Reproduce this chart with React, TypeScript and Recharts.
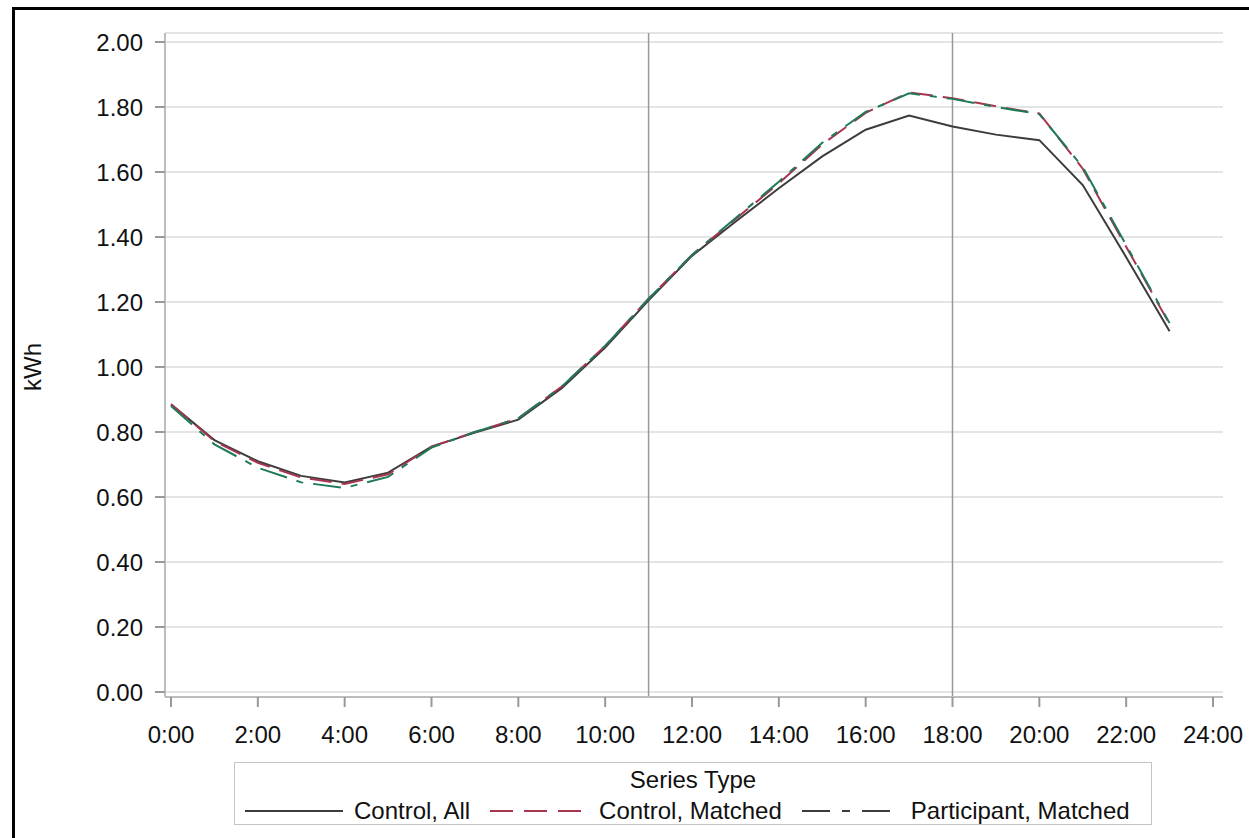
import React from 'react';
import { LineChart, Line, XAxis, YAxis, CartesianGrid, ReferenceLine } from 'recharts';

// hourly average load profile (hour of day -> kWh)
const hours = [0, 1, 2, 3, 4, 5, 6, 7, 8, 9, 10, 11, 12, 13, 14, 15, 16, 17, 18, 19, 20, 21, 22, 23];
const controlAll = [0.885, 0.775, 0.71, 0.665, 0.645, 0.675, 0.755, 0.798, 0.838, 0.935, 1.06, 1.205, 1.342, 1.447, 1.55, 1.648, 1.73, 1.774, 1.74, 1.715, 1.698, 1.56, 1.338, 1.11];
const controlMatched = [0.885, 0.772, 0.705, 0.66, 0.64, 0.67, 0.755, 0.8, 0.842, 0.94, 1.065, 1.21, 1.345, 1.455, 1.565, 1.685, 1.782, 1.845, 1.827, 1.802, 1.78, 1.61, 1.37, 1.132];
const participantMatched = [0.88, 0.762, 0.69, 0.645, 0.628, 0.662, 0.752, 0.8, 0.842, 0.94, 1.065, 1.21, 1.345, 1.458, 1.57, 1.69, 1.785, 1.842, 1.825, 1.8, 1.778, 1.615, 1.375, 1.135];

const xTicks = [0, 2, 4, 6, 8, 10, 12, 14, 16, 18, 20, 22, 24];
const yTicks = [0, 0.2, 0.4, 0.6, 0.8, 1.0, 1.2, 1.4, 1.6, 1.8, 2.0];
const refHours = [11, 18];

const SOLID = '#3c3c3c';
const RED = '#a8344e';
const GREEN = '#1f7a57';
const FRAME = '#bdbdbd';
const FONT = '"Liberation Sans", Arial, sans-serif';

const data = hours.map((h, i) => ({
  h,
  all: controlAll[i],
  cm: controlMatched[i],
  pm: participantMatched[i],
}));

const tickStyle = { fontSize: 24, fill: '#111', fontFamily: FONT };

const LegendItem: React.FC<{ color: string; dash?: string; label: string }> = ({ color, dash, label }) => (
  <div style={{ display: 'flex', alignItems: 'center', gap: '11px' }}>
    <svg width={98} height={6}>
      <line x1={0} y1={3} x2={98} y2={3} stroke={color} strokeWidth={2} strokeDasharray={dash} />
    </svg>
    <span>{label}</span>
  </div>
);

export default function App() {
  return (
    <div style={{ position: 'fixed', left: 0, top: 0, width: 1249, height: 838, background: '#fff', overflow: 'hidden', fontFamily: FONT }}>
      <div style={{ position: 'absolute', left: 12, top: 7, width: 1400, height: 1000, borderLeft: '3px solid #000', borderTop: '3px solid #000' }} />
      <div style={{ position: 'absolute', left: 0, top: 0 }}>
        <LineChart width={1249} height={838} data={data} margin={{ top: 33, right: 26, left: 0, bottom: 91 }}>
          <CartesianGrid horizontal vertical={false} stroke="#e4e4e4" strokeWidth={2} />
          <XAxis
            dataKey="h" type="number" domain={[0, 24]} ticks={xTicks} interval={0}
            tickFormatter={(v) => `${v}:00`} padding={{ left: 6, right: 10 }} height={50}
            tick={tickStyle} tickSize={10} tickMargin={19}
            axisLine={{ stroke: FRAME, strokeWidth: 2 }} tickLine={{ stroke: '#999', strokeWidth: 2 }}
          />
          <XAxis xAxisId="top" orientation="top" type="number" domain={[0, 24]} height={0} tick={false} tickLine={false}
            axisLine={{ stroke: FRAME, strokeWidth: 2 }} />
          <YAxis
            type="number" domain={[0, 2]} ticks={yTicks} interval={0}
            tickFormatter={(v) => Number(v).toFixed(2)} padding={{ top: 9, bottom: 5 }} width={165}
            tick={tickStyle} tickSize={10} tickMargin={12}
            axisLine={{ stroke: FRAME, strokeWidth: 2 }} tickLine={{ stroke: '#999', strokeWidth: 2 }}
          />
          <YAxis yAxisId="right" orientation="right" type="number" domain={[0, 2]} width={0} tick={false} tickLine={false}
            axisLine={{ stroke: FRAME, strokeWidth: 2 }} />
          {refHours.map((h) => (
            <ReferenceLine key={h} x={h} stroke="#999" strokeWidth={1.5} />
          ))}
          <Line type="linear" dataKey="all" stroke={SOLID} strokeWidth={2} dot={false} isAnimationActive={false} />
          <Line type="linear" dataKey="cm" stroke={RED} strokeWidth={2} strokeDasharray="22 10" dot={false} isAnimationActive={false} />
          <Line type="linear" dataKey="pm" stroke={GREEN} strokeWidth={2} strokeDasharray="28 10 7 10" dot={false} isAnimationActive={false} />
        </LineChart>
      </div>
      <div style={{ position: 'absolute', left: 33, top: 367, transform: 'translate(-50%, -50%) rotate(-90deg)', fontSize: 24, color: '#111', whiteSpace: 'nowrap' }}>
        kWh
      </div>
      <div style={{ position: 'absolute', left: 234, top: 762, width: 918, height: 63, border: '1px solid #c4c4c4', boxSizing: 'border-box', fontSize: 24, color: '#111' }}>
        <div style={{ position: 'absolute', left: 0, right: 0, top: 3, textAlign: 'center', lineHeight: '28px' }}>Series Type</div>
        <div style={{ position: 'absolute', left: 10, top: 34, display: 'flex', alignItems: 'center', gap: '20px', lineHeight: '28px' }}>
          <LegendItem color={SOLID} label="Control, All" />
          <LegendItem color={RED} dash="23 11" label="Control, Matched" />
          <LegendItem color={SOLID} dash="28 12 8 12" label="Participant, Matched" />
        </div>
      </div>
    </div>
  );
}
